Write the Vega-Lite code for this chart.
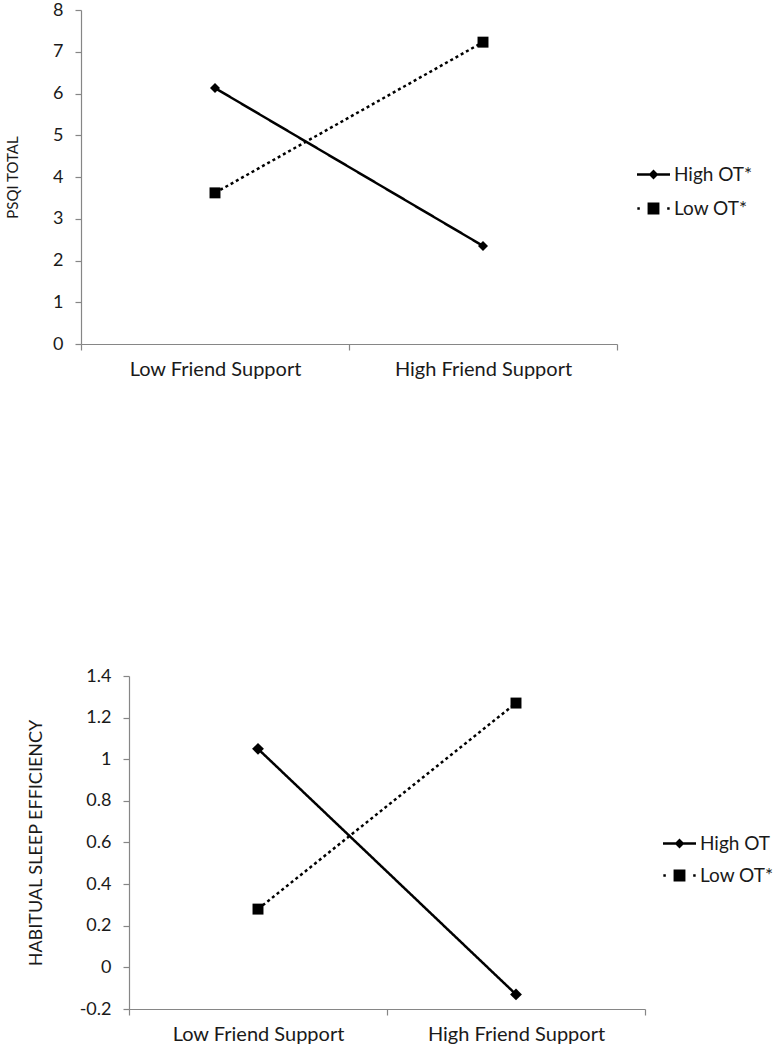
{
  "$schema": "https://vega.github.io/schema/vega-lite/v6.json",
  "background": "white",
  "padding": {"left": 5, "top": 1, "right": 0, "bottom": 0},
  "spacing": 288,
  "config": {
    "view": {"stroke": null},
    "font": "Lato",
    "axis": {
      "grid": false,
      "domainColor": "#868686",
      "tickColor": "#868686",
      "tickSize": 6,
      "domainWidth": 1.2,
      "tickWidth": 1.2,
      "labelColor": "#1a1a1a",
      "labelFontSize": 18,
      "titleFontSize": 15,
      "titleFontWeight": "normal",
      "titleColor": "#1a1a1a",
      "minExtent": 0
    }
  },
  "datasets": {
    "psqi": [
      {"support": "Low Friend Support", "OT": "High OT*", "value": 6.13},
      {"support": "High Friend Support", "OT": "High OT*", "value": 2.35},
      {"support": "Low Friend Support", "OT": "Low OT*", "value": 3.62},
      {"support": "High Friend Support", "OT": "Low OT*", "value": 7.23}
    ],
    "hse": [
      {"support": "Low Friend Support", "OT": "High OT", "value": 1.05},
      {"support": "High Friend Support", "OT": "High OT", "value": -0.13},
      {"support": "Low Friend Support", "OT": "Low OT*", "value": 0.28},
      {"support": "High Friend Support", "OT": "Low OT*", "value": 1.27}
    ]
  },
  "vconcat": [
    {
      "data": {"name": "psqi"},
      "width": 536,
      "height": 334,
      "encoding": {
        "x": {
          "field": "support", "type": "nominal",
          "sort": ["Low Friend Support", "High Friend Support"],
          "scale": {"type": "band", "paddingInner": 0, "paddingOuter": 0},
          "axis": {"title": null, "labelAngle": 0, "tickBand": "extent", "labelPadding": 9, "labelFontSize": 20}
        },
        "y": {
          "field": "value", "type": "quantitative",
          "scale": {"domain": [0, 8], "nice": false, "zero": false},
          "axis": {"title": "PSQI TOTAL", "values": [0, 1, 2, 3, 4, 5, 6, 7, 8], "labelPadding": 12, "titlePadding": 32}
        }
      },
      "layer": [
        {
          "mark": {"type": "line", "color": "black", "strokeWidth": 2.5},
          "encoding": {
            "strokeDash": {"field": "OT", "type": "nominal", "scale": {"domain": ["High OT*", "Low OT*"], "range": [[1, 0], [3, 3]]}, "legend": null}
          }
        },
        {
          "mark": {"type": "point", "filled": true, "color": "black", "opacity": 1},
          "encoding": {
            "shape": {"field": "OT", "type": "nominal", "scale": {"domain": ["High OT*", "Low OT*"], "range": ["diamond", "square"]}, "legend": null},
            "size": {"field": "OT", "type": "nominal", "scale": {"domain": ["High OT*", "Low OT*"], "range": [100, 140]}, "legend": null}
          }
        },
        {
          "mark": {"type": "point", "filled": true, "color": "black", "opacity": 0},
          "encoding": {
            "shape": {
              "field": "OT", "type": "nominal",
              "scale": {"domain": ["High OT*", "Low OT*"], "range": ["M-1,-0.076H1V0.076H-1Z M0,-0.3L0.3,0L0,0.3L-0.3,0Z", "M-0.36,-0.36H0.36V0.36H-0.36Z M-0.98,-0.076H-0.83V0.076H-0.98Z M0.83,-0.076H0.98V0.076H0.83Z"]},
              "legend": {
                "title": null, "orient": "none", "legendX": 555, "legendY": 147,
                "symbolSize": 1089, "labelFontSize": 19, "labelColor": "#1a1a1a",
                "rowPadding": 6, "labelOffset": 3, "padding": 0,
                "encode": {"symbols": {"update": {"size": {"value": 1089}, "fill": {"value": "black"}, "strokeWidth": {"value": 0}, "opacity": {"value": 1}}}}
              }
            }
          }
        }
      ],
      "resolve": {"scale": {"shape": "independent"}, "legend": {"shape": "independent"}}
    },
    {
      "data": {"name": "hse"},
      "width": 564,
      "height": 333,
      "encoding": {
        "x": {
          "field": "support", "type": "nominal",
          "sort": ["Low Friend Support", "High Friend Support"],
          "scale": {"type": "band", "paddingInner": 0, "paddingOuter": 0, "range": [48, 564]},
          "axis": {"title": null, "labelAngle": 0, "tickBand": "extent", "labelPadding": 9, "labelFontSize": 20}
        },
        "y": {
          "field": "value", "type": "quantitative",
          "scale": {"domain": [-0.2, 1.4], "nice": false, "zero": false},
          "axis": {"title": "HABITUAL SLEEP EFFICIENCY", "titleFontSize": 18, "offset": -48, "values": [-0.2, 0, 0.2, 0.4, 0.6, 0.8, 1, 1.2, 1.4], "labelExpr": "'' + datum.value", "labelPadding": 12, "titlePadding": 34}
        }
      },
      "layer": [
        {
          "mark": {"type": "line", "color": "black", "strokeWidth": 2.5},
          "encoding": {
            "strokeDash": {"field": "OT", "type": "nominal", "scale": {"domain": ["High OT", "Low OT*"], "range": [[1, 0], [3, 3]]}, "legend": null}
          }
        },
        {
          "mark": {"type": "point", "filled": true, "color": "black", "opacity": 1},
          "encoding": {
            "shape": {"field": "OT", "type": "nominal", "scale": {"domain": ["High OT", "Low OT*"], "range": ["diamond", "square"]}, "legend": null},
            "size": {"field": "OT", "type": "nominal", "scale": {"domain": ["High OT", "Low OT*"], "range": [100, 140]}, "legend": null}
          }
        },
        {
          "mark": {"type": "point", "filled": true, "color": "black", "opacity": 0},
          "encoding": {
            "shape": {
              "field": "OT", "type": "nominal",
              "scale": {"domain": ["High OT", "Low OT*"], "range": ["M-1,-0.076H1V0.076H-1Z M0,-0.3L0.3,0L0,0.3L-0.3,0Z", "M-0.36,-0.36H0.36V0.36H-0.36Z M-0.98,-0.076H-0.83V0.076H-0.98Z M0.83,-0.076H0.98V0.076H0.83Z"]},
              "legend": {
                "title": null, "orient": "none", "legendX": 581, "legendY": 150,
                "symbolSize": 1089, "labelFontSize": 19, "labelColor": "#1a1a1a",
                "rowPadding": 4, "labelOffset": 3, "padding": 0,
                "encode": {"symbols": {"update": {"size": {"value": 1089}, "fill": {"value": "black"}, "strokeWidth": {"value": 0}, "opacity": {"value": 1}}}}
              }
            }
          }
        }
      ],
      "resolve": {"scale": {"shape": "independent"}, "legend": {"shape": "independent"}}
    }
  ]
}
